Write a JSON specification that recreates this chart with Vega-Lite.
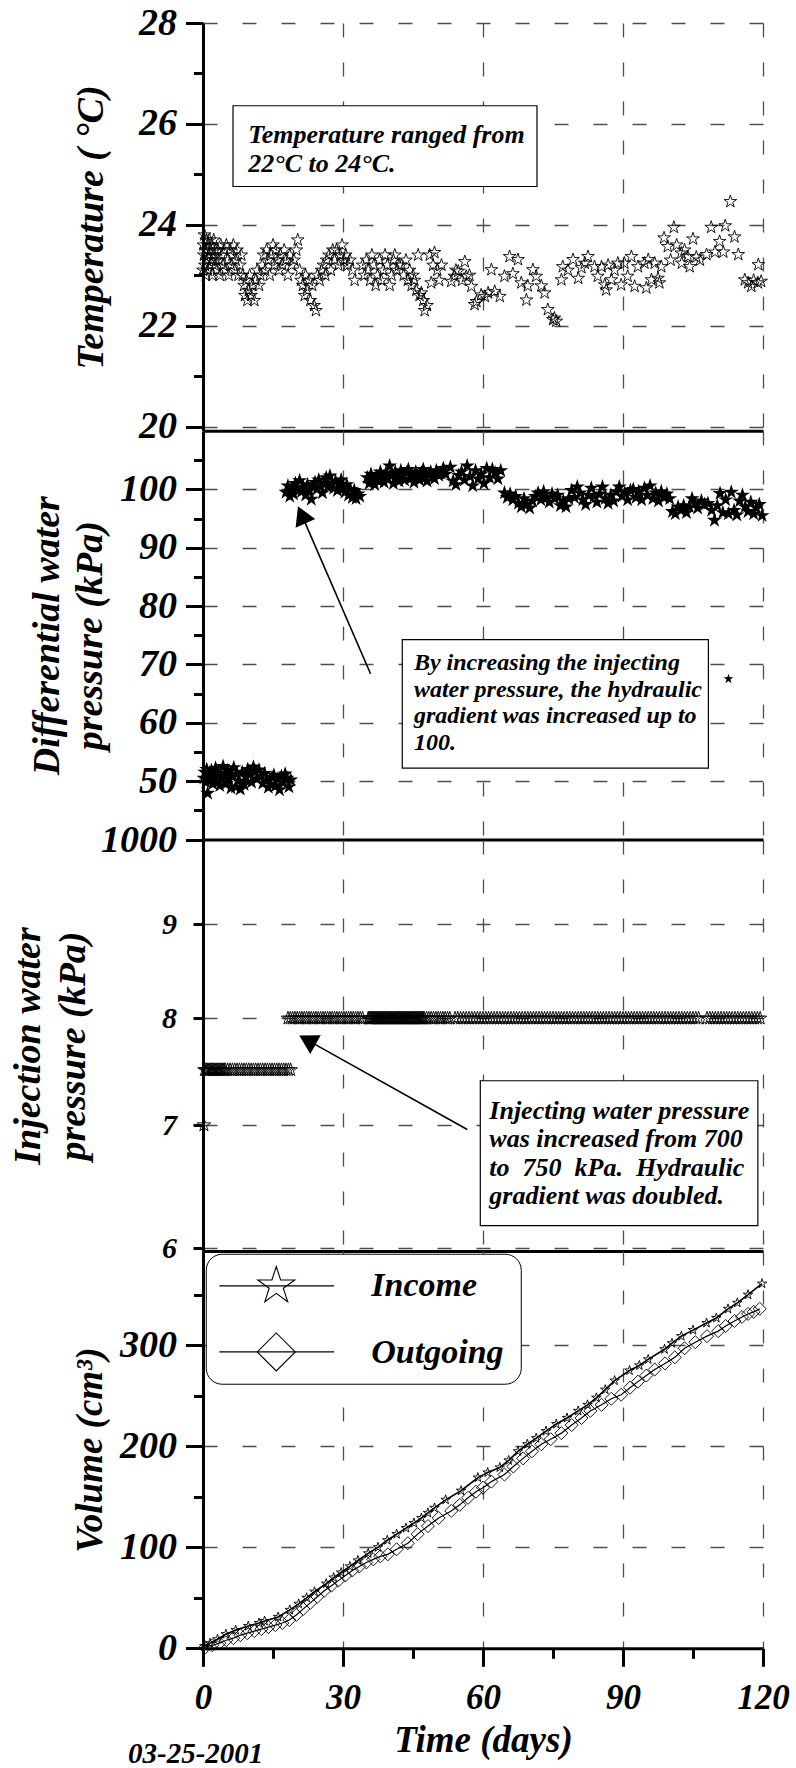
{
  "$schema": "https://vega.github.io/schema/vega-lite/v6.json",
  "padding": {"left": 9, "top": 4, "right": 10, "bottom": 0},
  "spacing": 0,
  "bounds": "flush",
  "config": {
    "view": {"stroke": null},
    "font": "Liberation Serif",
    "axis": {
      "labelFont": "Liberation Serif", "labelFontStyle": "italic", "labelFontWeight": "bold", "labelColor": "black",
      "titleFont": "Liberation Serif", "titleFontStyle": "italic", "titleFontWeight": "bold", "titleColor": "black",
      "domainColor": "black", "domainWidth": 3, "tickColor": "black", "tickWidth": 3,
      "gridColor": "#4d4d4d", "gridDash": [14, 25], "gridWidth": 1.3,
      "labelOverlap": false, "labelBound": false, "labelFlush": false
    },
    "text": {"font": "Liberation Serif", "fontStyle": "italic", "fontWeight": "bold", "color": "black"}
  },
  "datasets": {
    "temperature": [
      {"t":0.0,"v":23.1},{"t":0.1,"v":23.6},{"t":0.2,"v":23.4},{"t":0.3,"v":23.8},{"t":0.4,"v":23.2},{"t":0.5,"v":23.5},{"t":0.6,"v":23.0},{"t":0.7,"v":23.7},{"t":0.8,"v":23.3},{"t":0.9,"v":23.5},
      {"t":1.0,"v":23.1},{"t":1.1,"v":23.6},{"t":1.2,"v":23.4},{"t":1.4,"v":23.7},{"t":1.5,"v":23.2},{"t":1.6,"v":23.5},{"t":1.8,"v":23.3},{"t":1.9,"v":23.6},{"t":2.0,"v":23.0},{"t":2.2,"v":23.4},
      {"t":2.3,"v":23.7},{"t":2.5,"v":23.2},{"t":2.6,"v":23.5},{"t":2.8,"v":23.3},{"t":3.0,"v":23.1},{"t":3.2,"v":23.5},{"t":3.4,"v":23.3},{"t":3.6,"v":23.0},{"t":3.8,"v":23.6},{"t":4.0,"v":23.4},
      {"t":4.3,"v":23.2},{"t":4.5,"v":23.5},{"t":4.8,"v":23.1},{"t":5.0,"v":23.6},{"t":5.3,"v":23.3},{"t":5.5,"v":23.0},{"t":5.8,"v":23.5},{"t":6.0,"v":23.2},{"t":6.3,"v":23.4},{"t":6.5,"v":23.6},
      {"t":6.8,"v":23.1},{"t":7.0,"v":23.3},{"t":7.3,"v":23.5},{"t":7.6,"v":23.0},{"t":7.9,"v":23.2},{"t":8.2,"v":23.4},{"t":8.5,"v":23.0},{"t":8.8,"v":22.8},{"t":9.0,"v":22.6},{"t":9.3,"v":22.9},
      {"t":9.5,"v":22.5},{"t":9.8,"v":22.7},{"t":10.0,"v":23.0},{"t":10.3,"v":22.6},{"t":10.6,"v":22.8},{"t":11.0,"v":22.5},{"t":11.3,"v":22.9},{"t":11.6,"v":23.1},{"t":12.0,"v":22.8},{"t":12.3,"v":23.0},
      {"t":12.7,"v":23.2},{"t":13.0,"v":23.4},{"t":13.3,"v":23.1},{"t":13.6,"v":23.5},{"t":14.0,"v":23.3},{"t":14.3,"v":23.0},{"t":14.6,"v":23.4},{"t":15.0,"v":23.6},{"t":15.3,"v":23.2},{"t":15.6,"v":23.5},
      {"t":16.0,"v":23.3},{"t":16.3,"v":23.1},{"t":16.6,"v":23.4},{"t":17.0,"v":23.2},{"t":17.4,"v":23.5},{"t":17.8,"v":23.3},{"t":18.2,"v":23.0},{"t":18.6,"v":23.4},{"t":19.0,"v":23.2},{"t":19.5,"v":23.3},
      {"t":20.0,"v":23.5},{"t":20.3,"v":23.7},{"t":20.7,"v":23.1},{"t":21.0,"v":22.9},{"t":21.4,"v":22.8},{"t":21.8,"v":22.6},{"t":22.0,"v":23.0},{"t":22.3,"v":22.7},{"t":22.7,"v":22.9},{"t":23.0,"v":22.5},
      {"t":23.4,"v":22.8},{"t":23.8,"v":22.4},{"t":24.2,"v":22.3},{"t":24.5,"v":23.0},{"t":25.0,"v":22.9},{"t":25.4,"v":23.1},{"t":25.8,"v":23.2},{"t":26.2,"v":23.0},{"t":26.5,"v":23.3},{"t":27.0,"v":23.4},
      {"t":27.4,"v":23.1},{"t":27.8,"v":23.5},{"t":28.2,"v":23.3},{"t":28.6,"v":23.5},{"t":29.0,"v":23.2},{"t":29.4,"v":23.4},{"t":29.8,"v":23.6},{"t":30.2,"v":23.3},{"t":30.6,"v":23.4},{"t":31.0,"v":23.2},
      {"t":31.5,"v":23.3},{"t":32.0,"v":23.1},{"t":32.5,"v":22.9},{"t":34.2,"v":23.2},{"t":34.6,"v":23.0},{"t":35.0,"v":23.3},{"t":35.4,"v":23.1},{"t":35.8,"v":22.9},{"t":36.2,"v":23.4},{"t":36.6,"v":23.2},
      {"t":37.0,"v":22.8},{"t":37.4,"v":23.0},{"t":37.8,"v":23.3},{"t":38.2,"v":22.9},{"t":38.6,"v":23.1},{"t":39.0,"v":23.4},{"t":39.5,"v":23.2},{"t":40.0,"v":22.8},{"t":40.4,"v":23.0},{"t":40.8,"v":23.3},
      {"t":41.1,"v":23.4},{"t":41.5,"v":23.1},{"t":42.0,"v":23.2},{"t":42.5,"v":23.2},{"t":43.0,"v":23.0},{"t":43.5,"v":23.3},{"t":43.9,"v":22.9},{"t":44.3,"v":23.1},{"t":44.7,"v":22.8},{"t":45.0,"v":23.0},
      {"t":45.3,"v":22.9},{"t":45.7,"v":22.7},{"t":46.1,"v":23.4},{"t":46.4,"v":22.6},{"t":46.8,"v":22.65},{"t":47.2,"v":22.5},{"t":47.5,"v":22.3},{"t":48.0,"v":22.4},{"t":48.6,"v":23.4},{"t":48.9,"v":22.85},
      {"t":49.3,"v":23.2},{"t":49.6,"v":23.45},{"t":50.2,"v":23.1},{"t":50.6,"v":22.9},{"t":51.1,"v":23.2},{"t":53.2,"v":22.88},{"t":53.9,"v":22.98},{"t":54.2,"v":23.1},{"t":54.7,"v":23.08},{"t":55.5,"v":22.9},
      {"t":56.1,"v":23.27},{"t":56.4,"v":22.98},{"t":57.1,"v":23.0},{"t":57.5,"v":22.78},{"t":58.2,"v":22.42},{"t":58.6,"v":22.48},{"t":59.6,"v":22.61},{"t":60.4,"v":22.58},{"t":61.1,"v":22.65},{"t":61.8,"v":23.11},
      {"t":62.5,"v":22.68},{"t":63.6,"v":22.58},{"t":64.6,"v":22.98},{"t":65.7,"v":23.37},{"t":66.4,"v":23.03},{"t":67.5,"v":23.31},{"t":68.2,"v":22.85},{"t":69.3,"v":22.51},{"t":69.6,"v":22.79},{"t":70.7,"v":23.11},
      {"t":71.4,"v":22.98},{"t":72.5,"v":22.79},{"t":73.2,"v":22.65},{"t":73.9,"v":22.32},{"t":75.0,"v":22.12},{"t":75.3,"v":22.15},{"t":75.7,"v":22.09},{"t":76.8,"v":22.91},{"t":77.1,"v":23.17},{"t":78.2,"v":23.1},
      {"t":79.3,"v":23.31},{"t":80.4,"v":22.94},{"t":81.1,"v":23.15},{"t":81.8,"v":23.24},{"t":82.5,"v":23.37},{"t":83.9,"v":23.17},{"t":84.6,"v":22.98},{"t":85.4,"v":23.17},{"t":86.1,"v":22.81},{"t":86.4,"v":22.71},
      {"t":86.8,"v":23.2},{"t":87.5,"v":22.91},{"t":88.2,"v":23.1},{"t":88.9,"v":23.24},{"t":89.6,"v":22.81},{"t":90.3,"v":23.24},{"t":91.0,"v":22.98},{"t":91.8,"v":23.37},{"t":92.5,"v":22.78},{"t":93.2,"v":23.17},
      {"t":94.6,"v":23.24},{"t":95.0,"v":22.75},{"t":95.4,"v":23.31},{"t":96.1,"v":22.91},{"t":96.8,"v":23.24},{"t":97.5,"v":22.94},{"t":97.8,"v":22.85},{"t":98.2,"v":23.17},{"t":98.8,"v":23.74},{"t":99.6,"v":23.57},
      {"t":100.2,"v":23.3},{"t":100.9,"v":23.95},{"t":101.5,"v":23.6},{"t":102.5,"v":23.44},{"t":102.6,"v":23.24},{"t":103.2,"v":23.5},{"t":103.9,"v":23.37},{"t":104.3,"v":23.17},{"t":105.0,"v":23.72},{"t":105.7,"v":23.36},
      {"t":106.5,"v":23.3},{"t":107.9,"v":23.41},{"t":108.9,"v":23.95},{"t":109.7,"v":23.46},{"t":110.7,"v":23.67},{"t":111.5,"v":23.46},{"t":111.9,"v":23.98},{"t":113.0,"v":24.46},{"t":113.9,"v":23.76},{"t":114.7,"v":23.41},
      {"t":116.1,"v":22.91},{"t":116.8,"v":22.85},{"t":117.5,"v":22.78},{"t":118.0,"v":22.9},{"t":118.9,"v":22.85},{"t":119.0,"v":23.21},{"t":119.6,"v":22.88}
    ],
    "differential": [
      {"t":0.2,"v":50.5},{"t":0.4,"v":51.5},{"t":0.6,"v":49.8},{"t":0.8,"v":52.0},{"t":1.0,"v":47.9},{"t":1.2,"v":51.0},{"t":1.5,"v":50.2},{"t":1.8,"v":51.8},{"t":2.1,"v":49.5},{"t":2.4,"v":50.8},
      {"t":2.7,"v":52.2},{"t":3.0,"v":50.0},{"t":3.3,"v":51.4},{"t":3.6,"v":49.2},{"t":4.0,"v":50.6},{"t":4.3,"v":52.5},{"t":4.6,"v":51.0},{"t":5.0,"v":49.6},{"t":5.3,"v":51.8},{"t":5.6,"v":50.3},
      {"t":6.0,"v":48.8},{"t":6.3,"v":50.9},{"t":6.6,"v":52.3},{"t":7.0,"v":49.0},{"t":7.3,"v":51.2},{"t":7.6,"v":50.0},{"t":8.0,"v":48.6},{"t":8.4,"v":51.5},{"t":8.8,"v":49.4},{"t":9.2,"v":50.7},
      {"t":9.6,"v":52.0},{"t":10.0,"v":51.1},{"t":10.4,"v":49.8},{"t":10.8,"v":52.4},{"t":11.2,"v":51.6},{"t":11.6,"v":50.4},{"t":12.0,"v":51.9},{"t":12.4,"v":50.8},{"t":12.8,"v":49.6},{"t":13.2,"v":51.3},
      {"t":13.6,"v":50.2},{"t":14.0,"v":48.9},{"t":14.4,"v":49.5},{"t":14.8,"v":50.6},{"t":15.2,"v":51.0},{"t":15.6,"v":49.2},{"t":16.0,"v":50.3},{"t":16.4,"v":48.5},{"t":16.8,"v":50.8},{"t":17.2,"v":49.7},
      {"t":17.6,"v":51.2},{"t":18.0,"v":50.5},{"t":18.4,"v":49.0},{"t":18.8,"v":50.2},
      {"t":17.8,"v":99.5},{"t":18.2,"v":100.6},{"t":18.6,"v":98.8},{"t":19.0,"v":100.0},{"t":19.4,"v":99.2},{"t":19.8,"v":101.0},{"t":20.2,"v":100.2},{"t":20.7,"v":101.5},{"t":21.1,"v":99.6},{"t":21.5,"v":100.4},
      {"t":22.0,"v":99.0},{"t":22.4,"v":100.8},{"t":22.8,"v":99.8},{"t":23.2,"v":98.3},{"t":23.6,"v":100.5},{"t":24.0,"v":101.2},{"t":24.4,"v":100.0},{"t":24.8,"v":101.6},{"t":25.2,"v":100.6},{"t":25.6,"v":99.4},
      {"t":26.0,"v":101.0},{"t":26.4,"v":102.0},{"t":26.8,"v":100.4},{"t":27.2,"v":102.3},{"t":27.6,"v":101.0},{"t":28.0,"v":100.2},{"t":28.4,"v":101.4},{"t":28.8,"v":99.8},{"t":29.2,"v":100.8},{"t":29.6,"v":101.6},
      {"t":30.0,"v":100.2},{"t":30.4,"v":99.5},{"t":30.8,"v":100.8},{"t":31.2,"v":99.0},{"t":31.6,"v":100.0},{"t":32.0,"v":98.6},{"t":32.4,"v":99.8},{"t":32.8,"v":98.4},{"t":33.2,"v":99.2},{"t":33.6,"v":98.8},
      {"t":35.2,"v":102.0},{"t":35.6,"v":101.0},{"t":36.0,"v":102.6},{"t":36.4,"v":101.6},{"t":36.8,"v":100.8},{"t":37.2,"v":102.2},{"t":37.6,"v":101.4},{"t":38.0,"v":103.0},{"t":38.4,"v":102.0},{"t":38.8,"v":101.2},
      {"t":39.2,"v":102.8},{"t":39.6,"v":101.8},{"t":40.0,"v":104.0},{"t":40.4,"v":102.4},{"t":40.8,"v":101.0},{"t":41.2,"v":103.0},{"t":41.6,"v":102.0},{"t":42.0,"v":101.4},{"t":42.4,"v":103.2},{"t":42.8,"v":102.4},
      {"t":43.2,"v":101.6},{"t":43.6,"v":102.8},{"t":44.0,"v":103.4},{"t":44.4,"v":101.8},{"t":44.8,"v":102.6},{"t":45.2,"v":101.2},{"t":45.6,"v":103.0},{"t":46.0,"v":102.2},{"t":46.4,"v":101.6},{"t":46.8,"v":102.8},
      {"t":47.2,"v":103.4},{"t":47.6,"v":102.0},{"t":48.0,"v":101.4},{"t":48.4,"v":102.6},{"t":48.8,"v":103.0},{"t":49.2,"v":102.2},{"t":49.6,"v":101.8},{"t":50.0,"v":103.2},{"t":50.5,"v":102.4},{"t":51.0,"v":102.8},
      {"t":51.5,"v":103.6},{"t":52.0,"v":102.6},{"t":53.0,"v":103.8},{"t":53.6,"v":101.4},{"t":54.2,"v":100.8},{"t":54.8,"v":102.4},{"t":55.4,"v":103.0},{"t":56.0,"v":101.6},{"t":56.6,"v":104.0},{"t":57.2,"v":102.2},
      {"t":57.8,"v":100.6},{"t":58.4,"v":103.2},{"t":59.0,"v":101.8},{"t":59.6,"v":102.6},{"t":60.2,"v":101.0},{"t":60.8,"v":103.6},{"t":61.4,"v":102.0},{"t":62.0,"v":103.4},{"t":62.6,"v":102.8},{"t":63.2,"v":101.8},
      {"t":63.8,"v":103.2},{"t":64.6,"v":99.4},{"t":65.2,"v":98.6},{"t":65.8,"v":99.2},{"t":66.4,"v":98.2},{"t":67.0,"v":98.8},{"t":67.6,"v":97.6},{"t":68.2,"v":97.0},{"t":68.8,"v":98.4},{"t":69.4,"v":97.4},
      {"t":70.0,"v":96.8},{"t":70.6,"v":98.0},{"t":71.2,"v":98.8},{"t":71.8,"v":99.4},{"t":72.4,"v":98.2},{"t":73.0,"v":99.6},{"t":73.6,"v":98.6},{"t":74.2,"v":97.8},{"t":74.8,"v":99.2},{"t":75.4,"v":98.4},
      {"t":76.0,"v":99.0},{"t":76.6,"v":97.2},{"t":77.2,"v":98.0},{"t":77.8,"v":97.0},{"t":78.4,"v":98.4},{"t":79.0,"v":99.8},{"t":79.6,"v":98.6},{"t":80.2,"v":100.4},{"t":80.8,"v":99.4},{"t":81.4,"v":98.2},
      {"t":82.0,"v":97.4},{"t":82.6,"v":99.0},{"t":83.2,"v":100.2},{"t":83.8,"v":98.8},{"t":84.4,"v":97.8},{"t":85.0,"v":99.2},{"t":85.6,"v":100.4},{"t":86.2,"v":98.4},{"t":86.8,"v":97.6},{"t":87.4,"v":99.0},
      {"t":88.0,"v":98.0},{"t":88.6,"v":99.6},{"t":89.2,"v":100.4},{"t":89.8,"v":98.8},{"t":90.4,"v":99.4},{"t":91.0,"v":98.2},{"t":91.6,"v":99.8},{"t":92.2,"v":100.0},{"t":92.8,"v":98.6},{"t":93.4,"v":99.6},
      {"t":94.0,"v":98.2},{"t":94.6,"v":100.2},{"t":95.2,"v":99.0},{"t":95.8,"v":100.6},{"t":96.4,"v":98.4},{"t":97.0,"v":99.4},{"t":97.6,"v":98.0},{"t":98.2,"v":99.6},{"t":98.8,"v":98.6},{"t":99.4,"v":99.2},
      {"t":100.0,"v":98.4},{"t":100.6,"v":96.2},{"t":101.2,"v":95.8},{"t":101.8,"v":97.0},{"t":102.4,"v":96.4},{"t":103.0,"v":97.2},{"t":103.6,"v":96.0},{"t":104.2,"v":97.0},{"t":104.8,"v":98.4},{"t":105.4,"v":97.6},
      {"t":106.0,"v":96.8},{"t":106.8,"v":98.0},{"t":107.5,"v":97.4},{"t":108.2,"v":97.6},{"t":109.0,"v":96.4},{"t":109.6,"v":94.7},{"t":110.2,"v":97.2},{"t":110.8,"v":99.3},{"t":111.4,"v":96.0},{"t":112.0,"v":98.2},
      {"t":112.6,"v":95.8},{"t":113.2,"v":99.5},{"t":113.8,"v":96.4},{"t":114.4,"v":95.6},{"t":115.0,"v":98.0},{"t":115.6,"v":99.0},{"t":116.2,"v":97.0},{"t":116.8,"v":96.2},{"t":117.4,"v":97.8},{"t":118.0,"v":95.8},
      {"t":118.6,"v":96.8},{"t":119.2,"v":97.4},{"t":119.8,"v":95.5}
    ],
    "differentialStray": [{"t":112.6,"v":67.5}],
    "injection": [
      {"t":0.2,"p":7},
      {"t":0.3,"p":7.5},{"t":0.55,"p":7.5},{"t":0.8,"p":7.5},{"t":1.05,"p":7.5},{"t":1.3,"p":7.5},{"t":1.55,"p":7.5},{"t":1.8,"p":7.5},{"t":2.05,"p":7.5},{"t":2.3,"p":7.5},{"t":2.55,"p":7.5},
      {"t":2.8,"p":7.5},{"t":3.05,"p":7.5},{"t":3.3,"p":7.5},{"t":3.55,"p":7.5},{"t":3.8,"p":7.5},{"t":4.05,"p":7.5},{"t":4.3,"p":7.5},{"t":4.55,"p":7.5},{"t":4.8,"p":7.5},{"t":5.3,"p":7.5},
      {"t":5.8,"p":7.5},{"t":6.3,"p":7.5},{"t":6.8,"p":7.5},{"t":7.3,"p":7.5},{"t":7.8,"p":7.5},{"t":8.3,"p":7.5},{"t":8.8,"p":7.5},{"t":9.3,"p":7.5},{"t":9.8,"p":7.5},{"t":10.3,"p":7.5},
      {"t":10.8,"p":7.5},{"t":11.3,"p":7.5},{"t":11.8,"p":7.5},{"t":12.3,"p":7.5},{"t":12.8,"p":7.5},{"t":13.3,"p":7.5},{"t":13.8,"p":7.5},{"t":14.3,"p":7.5},{"t":14.8,"p":7.5},{"t":15.3,"p":7.5},
      {"t":15.8,"p":7.5},{"t":16.3,"p":7.5},{"t":16.8,"p":7.5},{"t":17.3,"p":7.5},{"t":17.8,"p":7.5},{"t":18.3,"p":7.5},{"t":18.8,"p":7.5},
      {"t":18.2,"p":8},{"t":18.7,"p":8},{"t":19.2,"p":8},{"t":19.7,"p":8},{"t":20.2,"p":8},{"t":20.7,"p":8},{"t":21.2,"p":8},{"t":21.7,"p":8},{"t":22.2,"p":8},{"t":22.7,"p":8},
      {"t":23.2,"p":8},{"t":23.7,"p":8},{"t":24.2,"p":8},{"t":24.7,"p":8},{"t":25.2,"p":8},{"t":25.7,"p":8},{"t":26.2,"p":8},{"t":26.7,"p":8},{"t":27.2,"p":8},{"t":27.7,"p":8},
      {"t":28.2,"p":8},{"t":28.7,"p":8},{"t":29.2,"p":8},{"t":29.7,"p":8},{"t":30.2,"p":8},{"t":30.7,"p":8},{"t":31.2,"p":8},{"t":31.7,"p":8},{"t":32.2,"p":8},{"t":32.7,"p":8},
      {"t":33.2,"p":8},{"t":33.7,"p":8},{"t":34.2,"p":8},
      {"t":35.4,"p":8},{"t":35.6,"p":8},{"t":35.8,"p":8},{"t":36.0,"p":8},{"t":36.2,"p":8},{"t":36.4,"p":8},{"t":36.6,"p":8},{"t":36.8,"p":8},{"t":37.0,"p":8},{"t":37.2,"p":8},
      {"t":37.4,"p":8},{"t":37.6,"p":8},{"t":37.8,"p":8},{"t":38.0,"p":8},{"t":38.2,"p":8},{"t":38.4,"p":8},{"t":38.6,"p":8},{"t":38.8,"p":8},{"t":39.0,"p":8},{"t":39.2,"p":8},
      {"t":39.4,"p":8},{"t":39.6,"p":8},{"t":39.8,"p":8},{"t":40.0,"p":8},{"t":40.2,"p":8},{"t":40.4,"p":8},{"t":40.6,"p":8},{"t":40.8,"p":8},{"t":41.0,"p":8},{"t":41.2,"p":8},
      {"t":41.4,"p":8},{"t":41.6,"p":8},{"t":41.8,"p":8},{"t":42.0,"p":8},{"t":42.2,"p":8},{"t":42.4,"p":8},{"t":42.6,"p":8},{"t":42.8,"p":8},{"t":43.0,"p":8},{"t":43.2,"p":8},
      {"t":43.4,"p":8},{"t":43.6,"p":8},{"t":43.8,"p":8},{"t":44.0,"p":8},{"t":44.2,"p":8},{"t":44.4,"p":8},{"t":44.6,"p":8},{"t":44.8,"p":8},{"t":45.0,"p":8},{"t":45.2,"p":8},
      {"t":45.4,"p":8},{"t":45.6,"p":8},{"t":45.8,"p":8},{"t":46.0,"p":8},{"t":46.2,"p":8},{"t":46.4,"p":8},{"t":46.6,"p":8},{"t":46.8,"p":8},{"t":47.0,"p":8},{"t":47.2,"p":8},
      {"t":47.4,"p":8},{"t":47.9,"p":8},{"t":48.4,"p":8},{"t":48.9,"p":8},{"t":49.4,"p":8},{"t":49.9,"p":8},{"t":50.4,"p":8},{"t":50.9,"p":8},{"t":51.4,"p":8},{"t":51.9,"p":8},
      {"t":52.4,"p":8},{"t":52.9,"p":8},
      {"t":54.0,"p":8},{"t":54.6,"p":8},{"t":55.2,"p":8},{"t":55.8,"p":8},{"t":56.4,"p":8},{"t":57.0,"p":8},{"t":57.6,"p":8},{"t":58.2,"p":8},{"t":58.8,"p":8},{"t":59.4,"p":8},
      {"t":60.0,"p":8},{"t":60.6,"p":8},{"t":61.2,"p":8},{"t":61.8,"p":8},{"t":62.4,"p":8},{"t":63.0,"p":8},{"t":63.6,"p":8},{"t":64.2,"p":8},{"t":64.8,"p":8},{"t":65.4,"p":8},
      {"t":66.0,"p":8},{"t":66.6,"p":8},{"t":67.2,"p":8},{"t":67.8,"p":8},{"t":68.4,"p":8},{"t":69.0,"p":8},{"t":69.6,"p":8},{"t":70.2,"p":8},{"t":70.8,"p":8},{"t":71.4,"p":8},
      {"t":72.0,"p":8},{"t":72.6,"p":8},{"t":73.2,"p":8},{"t":73.8,"p":8},{"t":74.4,"p":8},{"t":75.0,"p":8},{"t":75.6,"p":8},{"t":76.2,"p":8},{"t":76.8,"p":8},{"t":77.4,"p":8},
      {"t":78.0,"p":8},{"t":78.6,"p":8},{"t":79.2,"p":8},{"t":79.8,"p":8},{"t":80.4,"p":8},{"t":81.0,"p":8},{"t":81.6,"p":8},{"t":82.2,"p":8},{"t":82.8,"p":8},{"t":83.4,"p":8},
      {"t":84.0,"p":8},{"t":84.6,"p":8},{"t":85.2,"p":8},{"t":85.8,"p":8},{"t":86.4,"p":8},{"t":87.0,"p":8},{"t":87.6,"p":8},{"t":88.2,"p":8},{"t":88.8,"p":8},{"t":89.4,"p":8},
      {"t":90.0,"p":8},{"t":90.6,"p":8},{"t":91.2,"p":8},{"t":91.8,"p":8},{"t":92.4,"p":8},{"t":93.0,"p":8},{"t":93.6,"p":8},{"t":94.2,"p":8},{"t":94.8,"p":8},{"t":95.4,"p":8},
      {"t":96.0,"p":8},{"t":96.6,"p":8},{"t":97.2,"p":8},{"t":97.8,"p":8},{"t":98.4,"p":8},{"t":99.0,"p":8},{"t":99.6,"p":8},{"t":100.2,"p":8},{"t":100.8,"p":8},{"t":101.4,"p":8},
      {"t":102.0,"p":8},{"t":102.6,"p":8},{"t":103.2,"p":8},{"t":103.8,"p":8},{"t":104.4,"p":8},{"t":105.0,"p":8},{"t":105.6,"p":8},{"t":106.2,"p":8},
      {"t":108.0,"p":8},{"t":108.6,"p":8},{"t":109.2,"p":8},{"t":109.8,"p":8},{"t":110.4,"p":8},{"t":111.0,"p":8},{"t":111.6,"p":8},{"t":112.2,"p":8},{"t":112.8,"p":8},{"t":113.4,"p":8},
      {"t":114.0,"p":8},{"t":114.6,"p":8},{"t":115.2,"p":8},{"t":115.8,"p":8},{"t":116.4,"p":8},{"t":117.0,"p":8},{"t":117.6,"p":8},{"t":118.2,"p":8},{"t":118.8,"p":8},{"t":119.4,"p":8}
    ],
    "income": [
      {"t":0.3,"v":2},{"t":1.5,"v":5},{"t":3.1,"v":9},{"t":4.9,"v":14},{"t":7.0,"v":18},{"t":9.7,"v":22},{"t":12.0,"v":25},{"t":13.2,"v":27},{"t":16.1,"v":31},{"t":18.6,"v":38},
      {"t":20.5,"v":44},{"t":22.2,"v":50},{"t":23.9,"v":56},{"t":26.4,"v":64},{"t":28.0,"v":70},{"t":29.6,"v":75},{"t":31.5,"v":81},{"t":33.2,"v":87},{"t":35.4,"v":94},{"t":37.5,"v":100},
      {"t":39.5,"v":107},{"t":41.5,"v":113},{"t":43.5,"v":119},{"t":45.2,"v":124},{"t":46.8,"v":129},{"t":48.2,"v":134},{"t":49.6,"v":139},{"t":52.0,"v":147},{"t":55.3,"v":156},{"t":58.9,"v":169},
      {"t":61.0,"v":174},{"t":63.6,"v":179},{"t":65.5,"v":186},{"t":67.5,"v":195},{"t":69.5,"v":202},{"t":71.4,"v":208},{"t":73.5,"v":215},{"t":75.7,"v":222},{"t":78.0,"v":228},{"t":80.4,"v":235},
      {"t":82.4,"v":241},{"t":84.3,"v":248},{"t":86.2,"v":256},{"t":88.2,"v":265},{"t":91.4,"v":275},{"t":93.5,"v":280},{"t":95.4,"v":286},{"t":98.9,"v":296},{"t":100.5,"v":302},{"t":102.5,"v":309},
      {"t":105.0,"v":315},{"t":107.9,"v":322},{"t":110.0,"v":327},{"t":112.5,"v":336},{"t":114.5,"v":342},{"t":116.8,"v":350},{"t":119.8,"v":361}
    ],
    "outgoing": [
      {"t":0.5,"v":1},{"t":2.0,"v":3},{"t":3.5,"v":5},{"t":5.0,"v":8},{"t":6.5,"v":10},{"t":8.0,"v":13},{"t":9.5,"v":15},{"t":11.0,"v":17},{"t":12.5,"v":19},{"t":14.0,"v":21},
      {"t":15.5,"v":23},{"t":17.0,"v":25},{"t":18.5,"v":28},{"t":20.0,"v":33},{"t":21.5,"v":39},{"t":23.0,"v":45},{"t":24.5,"v":51},{"t":26.0,"v":57},{"t":27.5,"v":62},{"t":29.0,"v":67},
      {"t":30.5,"v":72},{"t":32.0,"v":77},{"t":33.5,"v":81},{"t":35.0,"v":85},{"t":36.5,"v":88},{"t":38.0,"v":91},{"t":39.6,"v":93},{"t":41.5,"v":98},{"t":43.9,"v":104},{"t":46.0,"v":113},
      {"t":48.2,"v":121},{"t":50.5,"v":129},{"t":53.2,"v":136},{"t":55.0,"v":142},{"t":56.8,"v":149},{"t":58.5,"v":155},{"t":60.0,"v":159},{"t":61.8,"v":165},{"t":64.6,"v":172},{"t":66.5,"v":180},
      {"t":68.6,"v":188},{"t":70.5,"v":195},{"t":72.5,"v":202},{"t":74.5,"v":207},{"t":76.8,"v":213},{"t":79.0,"v":221},{"t":81.1,"v":228},{"t":83.0,"v":235},{"t":85.4,"v":241},{"t":87.5,"v":247},
      {"t":89.6,"v":251},{"t":91.5,"v":258},{"t":93.2,"v":264},{"t":95.0,"v":270},{"t":96.8,"v":276},{"t":99.0,"v":282},{"t":101.1,"v":288},{"t":103.2,"v":297},{"t":105.5,"v":303},{"t":108.0,"v":309},
      {"t":110.4,"v":314},{"t":112.0,"v":319},{"t":113.9,"v":324},{"t":115.5,"v":328},{"t":116.8,"v":331},{"t":118.0,"v":333},{"t":119.3,"v":336}
    ]
  },
  "vconcat": [
    {
      "width": 560,
      "height": 407.7,
      "layer": [
        {
          "data": {"name": "temperature"},
          "mark": {"type": "point", "shape": "M0,-1L0.2245,-0.309L0.951,-0.309L0.363,0.118L0.588,0.809L0,0.382L-0.588,0.809L-0.363,0.118L-0.951,-0.309L-0.2245,-0.309Z", "filled": false, "stroke": "black", "strokeWidth": 0.9, "size": 178, "opacity": 1},
          "encoding": {
            "x": {"field": "t", "type": "quantitative", "scale": {"domain": [0, 120], "nice": false, "zero": false},
                  "axis": {"values": [30, 60, 90, 120], "tickCount": 100, "ticks": false, "labels": false, "title": null, "grid": true, "domain": true}},
            "y": {"field": "v", "type": "quantitative", "scale": {"domain": [19.92, 28], "nice": false, "zero": false},
                  "axis": {
                    "values": [20, 21, 22, 23, 24, 25, 26, 27, 28],
                    "tickCount": 100,
                    "tickSize": 17.5,
                    "tickDash": {"condition": {"test": "datum.value % 2 === 0", "value": [20, 0]}, "value": [9.5, 100]},
                    "gridOpacity": {"condition": {"test": "datum.value % 2 === 0", "value": 1}, "value": 0},
                    "labelExpr": "datum.value % 2 === 0 ? format(datum.value, 'd') : ''",
                    "labelFontSize": 38, "labelPadding": 9,
                    "title": "Temperature ( °C)", "titleFontSize": 38, "titleAngle": -90,
                    "titleX": -101, "titleY": 203.9, "titleAlign": "center", "titleBaseline": "alphabetic"
                  }}
          }
        },
        {
          "data": {"values": [{}]},
          "mark": {"type": "rect", "fill": "white", "stroke": "black", "strokeWidth": 1.2},
          "encoding": {
            "x": {"datum": 6.43, "type": "quantitative", "scale": {"domain": [0, 120], "nice": false, "zero": false}},
            "x2": {"datum": 71.57},
            "y": {"datum": 26.36, "type": "quantitative", "scale": {"domain": [19.92, 28], "nice": false, "zero": false}},
            "y2": {"datum": 24.76}
          }
        },
        {
          "data": {"values": [{}]},
          "mark": {"type": "text", "align": "left", "baseline": "alphabetic", "fontSize": 26, "lineHeight": 29},
          "encoding": {
            "x": {"datum": 9.71, "type": "quantitative", "scale": {"domain": [0, 120], "nice": false, "zero": false}},
            "y": {"datum": 25.62, "type": "quantitative", "scale": {"domain": [19.92, 28], "nice": false, "zero": false}},
            "text": {"value": ["Temperature ranged from", "22°C to 24°C."]}
          }
        }
      ]
    },
    {
      "width": 560,
      "height": 408.4,
      "layer": [
        {
          "data": {"name": "differential"},
          "mark": {"type": "point", "shape": "M0,-1L0.2245,-0.309L0.951,-0.309L0.363,0.118L0.588,0.809L0,0.382L-0.588,0.809L-0.363,0.118L-0.951,-0.309L-0.2245,-0.309Z", "filled": true, "color": "black", "size": 250, "opacity": 1},
          "encoding": {
            "x": {"field": "t", "type": "quantitative", "scale": {"domain": [0, 120], "nice": false, "zero": false},
                  "axis": {"values": [30, 60, 90, 120], "tickCount": 100, "ticks": false, "labels": false, "title": null, "grid": true, "domain": true}},
            "y": {"field": "v", "type": "quantitative", "scale": {"domain": [40, 110], "nice": false, "zero": false},
                  "axis": {
                    "values": [45, 50, 55, 60, 65, 70, 75, 80, 85, 90, 95, 100, 105],
                    "tickCount": 100,
                    "tickSize": 17.5,
                    "tickDash": {"condition": {"test": "datum.value % 10 === 0", "value": [20, 0]}, "value": [9.5, 100]},
                    "gridOpacity": {"condition": {"test": "datum.value % 10 === 0", "value": 1}, "value": 0},
                    "labelExpr": "datum.value % 10 === 0 ? format(datum.value, 'd') : ''",
                    "labelFontSize": 38, "labelPadding": 9,
                    "title": ["Differential water", "pressure (kPa)"], "titleFontSize": 38, "titleAngle": -90, "titleLineHeight": 43,
                    "titleX": -144.7, "titleY": 204.2, "titleAlign": "center", "titleBaseline": "alphabetic"
                  }}
          }
        },
        {
          "data": {"name": "differentialStray"},
          "mark": {"type": "point", "shape": "M0,-1L0.2245,-0.309L0.951,-0.309L0.363,0.118L0.588,0.809L0,0.382L-0.588,0.809L-0.363,0.118L-0.951,-0.309L-0.2245,-0.309Z", "filled": true, "color": "black", "size": 110, "opacity": 1},
          "encoding": {
            "x": {"field": "t", "type": "quantitative", "scale": {"domain": [0, 120], "nice": false, "zero": false}},
            "y": {"field": "v", "type": "quantitative", "scale": {"domain": [40, 110], "nice": false, "zero": false}}
          }
        },
        {
          "data": {"values": [{}]},
          "mark": {"type": "rule", "stroke": "black", "strokeWidth": 1.6},
          "encoding": {
            "x": {"datum": 35.9, "type": "quantitative", "scale": {"domain": [0, 120], "nice": false, "zero": false}},
            "y": {"datum": 68.4, "type": "quantitative", "scale": {"domain": [40, 110], "nice": false, "zero": false}},
            "x2": {"datum": 21.15},
            "y2": {"datum": 95.63}
          }
        },
        {
          "data": {"values": [{}]},
          "mark": {"type": "point", "shape": "triangle-up", "filled": true, "color": "black", "size": 460, "angle": 336.4, "opacity": 1},
          "encoding": {
            "x": {"datum": 21.15, "type": "quantitative", "scale": {"domain": [0, 120], "nice": false, "zero": false}},
            "y": {"datum": 95.63, "type": "quantitative", "scale": {"domain": [40, 110], "nice": false, "zero": false}}
          }
        },
        {
          "data": {"values": [{}]},
          "mark": {"type": "rect", "fill": "white", "stroke": "black", "strokeWidth": 1.2},
          "encoding": {
            "x": {"datum": 42.7, "type": "quantitative", "scale": {"domain": [0, 120], "nice": false, "zero": false}},
            "x2": {"datum": 108.3},
            "y": {"datum": 74.24, "type": "quantitative", "scale": {"domain": [40, 110], "nice": false, "zero": false}},
            "y2": {"datum": 52.23}
          }
        },
        {
          "data": {"values": [{}]},
          "mark": {"type": "text", "align": "left", "baseline": "alphabetic", "fontSize": 24, "lineHeight": 26.5},
          "encoding": {
            "x": {"datum": 45.2, "type": "quantitative", "scale": {"domain": [0, 120], "nice": false, "zero": false}},
            "y": {"datum": 68.98, "type": "quantitative", "scale": {"domain": [40, 110], "nice": false, "zero": false}},
            "text": {"value": ["By increasing the injecting", "water pressure, the hydraulic", "gradient was increased up to", "100."]}
          }
        }
      ]
    },
    {
      "width": 560,
      "height": 410.9,
      "layer": [
        {
          "data": {"name": "injection"},
          "mark": {"type": "point", "shape": "M0,-1L0.2245,-0.309L0.951,-0.309L0.363,0.118L0.588,0.809L0,0.382L-0.588,0.809L-0.363,0.118L-0.951,-0.309L-0.2245,-0.309Z", "filled": false, "stroke": "black", "strokeWidth": 0.9, "size": 200, "opacity": 1},
          "encoding": {
            "x": {"field": "t", "type": "quantitative", "scale": {"domain": [0, 120], "nice": false, "zero": false},
                  "axis": {"values": [30, 60, 90, 120], "tickCount": 100, "ticks": false, "labels": false, "title": null, "grid": true, "domain": true}},
            "y": {"field": "p", "type": "quantitative", "scale": {"type": "log", "domain": [5.98, 10], "nice": false},
                  "axis": {
                    "values": [6, 7, 8, 9, 10],
                    "tickCount": 100,
                    "tickSize": 17.5,
                    "tickDash": {"condition": {"test": "datum.value >= 10", "value": [20, 0]}, "value": [10, 100]},
                    "gridOpacity": {"condition": {"test": "datum.value < 10", "value": 1}, "value": 0},
                    "labelExpr": "datum.value >= 10 ? '1000' : format(datum.value, 'd')",
                    "labelFontSize": {"condition": {"test": "datum.value >= 10", "value": 38}, "value": 30},
                    "labelPadding": 9,
                    "title": ["Injection water", "pressure (kPa)"], "titleFontSize": 38, "titleAngle": -90, "titleLineHeight": 45,
                    "titleX": -163.7, "titleY": 205.5, "titleAlign": "center", "titleBaseline": "alphabetic"
                  }}
          }
        },
        {
          "data": {"values": [{}]},
          "mark": {"type": "rect", "fill": "white", "stroke": "black", "strokeWidth": 1.2},
          "encoding": {
            "x": {"datum": 59.42, "type": "quantitative", "scale": {"domain": [0, 120], "nice": false, "zero": false}},
            "x2": {"datum": 118.9},
            "y": {"datum": 7.399, "type": "quantitative", "scale": {"type": "log", "domain": [5.98, 10], "nice": false}},
            "y2": {"datum": 6.172}
          }
        },
        {
          "data": {"values": [{}]},
          "mark": {"type": "text", "align": "left", "baseline": "alphabetic", "fontSize": 26, "lineHeight": 28.5},
          "encoding": {
            "x": {"datum": 61.35, "type": "quantitative", "scale": {"domain": [0, 120], "nice": false, "zero": false}},
            "y": {"datum": 7.054, "type": "quantitative", "scale": {"type": "log", "domain": [5.98, 10], "nice": false}},
            "text": {"value": ["Injecting water pressure", "was increased from 700", "to\u00a0 750\u00a0 kPa.\u00a0 Hydraulic", "gradient was doubled."]}
          }
        },
        {
          "data": {"values": [{}]},
          "mark": {"type": "rule", "stroke": "black", "strokeWidth": 1.6},
          "encoding": {
            "x": {"datum": 56.63, "type": "quantitative", "scale": {"domain": [0, 120], "nice": false, "zero": false}},
            "y": {"datum": 6.961, "type": "quantitative", "scale": {"type": "log", "domain": [5.98, 10], "nice": false}},
            "x2": {"datum": 22.37},
            "y2": {"datum": 7.785}
          }
        },
        {
          "data": {"values": [{}]},
          "mark": {"type": "point", "shape": "triangle-up", "filled": true, "color": "black", "size": 460, "angle": 299.25, "opacity": 1},
          "encoding": {
            "x": {"datum": 22.37, "type": "quantitative", "scale": {"domain": [0, 120], "nice": false, "zero": false}},
            "y": {"datum": 7.785, "type": "quantitative", "scale": {"type": "log", "domain": [5.98, 10], "nice": false}}
          }
        }
      ]
    },
    {
      "width": 560,
      "height": 397.3,
      "layer": [
        {
          "data": {"name": "outgoing"},
          "mark": {"type": "point", "shape": "diamond", "filled": false, "stroke": "black", "strokeWidth": 0.9, "size": 170, "opacity": 1},
          "encoding": {
            "x": {"field": "t", "type": "quantitative", "scale": {"domain": [0, 120], "nice": false, "zero": false},
                  "axis": {
                    "values": [0, 15, 30, 45, 60, 75, 90, 105, 120],
                    "tickCount": 100,
                    "tickSize": 18,
                    "tickDash": {"condition": {"test": "datum.value % 30 === 0", "value": [20, 0]}, "value": [10, 100]},
                    "gridOpacity": {"condition": {"test": "datum.value % 30 === 0 && datum.value > 0", "value": 1}, "value": 0},
                    "labelExpr": "datum.value % 30 === 0 ? format(datum.value, 'd') : ''",
                    "labelFontSize": 35, "labelPadding": 14,
                    "title": "Time (days)", "titleFontSize": 37, "titleBaseline": "alphabetic", "titleY": 103
                  }},
            "y": {"field": "v", "type": "quantitative", "scale": {"domain": [0, 393.3], "nice": false},
                  "axis": {
                    "values": [0, 50, 100, 150, 200, 250, 300, 350],
                    "tickCount": 100,
                    "tickSize": 17.5,
                    "tickDash": {"condition": {"test": "datum.value % 100 === 0", "value": [20, 0]}, "value": [9.5, 100]},
                    "gridOpacity": {"condition": {"test": "datum.value % 100 === 0 && datum.value > 0", "value": 1}, "value": 0},
                    "labelExpr": "datum.value % 100 === 0 ? format(datum.value, 'd') : ''",
                    "labelFontSize": 38, "labelPadding": 9,
                    "title": "Volume (cm³)", "titleFontSize": 37, "titleAngle": -90,
                    "titleX": -101.7, "titleY": 198.65, "titleAlign": "center", "titleBaseline": "alphabetic"
                  }}
          }
        },
        {
          "data": {"name": "outgoing"},
          "mark": {"type": "line", "stroke": "black", "strokeWidth": 1.2},
          "encoding": {
            "x": {"field": "t", "type": "quantitative", "scale": {"domain": [0, 120], "nice": false, "zero": false}},
            "y": {"field": "v", "type": "quantitative", "scale": {"domain": [0, 393.3], "nice": false}}
          }
        },
        {
          "data": {"name": "income"},
          "mark": {"type": "line", "stroke": "black", "strokeWidth": 1.6},
          "encoding": {
            "x": {"field": "t", "type": "quantitative", "scale": {"domain": [0, 120], "nice": false, "zero": false}},
            "y": {"field": "v", "type": "quantitative", "scale": {"domain": [0, 393.3], "nice": false}}
          }
        },
        {
          "data": {"name": "income"},
          "mark": {"type": "point", "shape": "M0,-1L0.2245,-0.309L0.951,-0.309L0.363,0.118L0.588,0.809L0,0.382L-0.588,0.809L-0.363,0.118L-0.951,-0.309L-0.2245,-0.309Z", "filled": false, "stroke": "black", "strokeWidth": 0.9, "size": 100, "opacity": 1},
          "encoding": {
            "x": {"field": "t", "type": "quantitative", "scale": {"domain": [0, 120], "nice": false, "zero": false}},
            "y": {"field": "v", "type": "quantitative", "scale": {"domain": [0, 393.3], "nice": false}}
          }
        },
        {
          "data": {"values": [{}]},
          "mark": {"type": "rect", "fill": "white", "stroke": "black", "strokeWidth": 1, "cornerRadius": 16},
          "encoding": {
            "x": {"datum": 0.7, "type": "quantitative", "scale": {"domain": [0, 120], "nice": false, "zero": false}},
            "x2": {"datum": 68.2},
            "y": {"datum": 390.1, "type": "quantitative", "scale": {"domain": [0, 393.3], "nice": false}},
            "y2": {"datum": 261.4}
          }
        },
        {
          "data": {"values": [{}]},
          "mark": {"type": "rule", "stroke": "black", "strokeWidth": 1.2},
          "encoding": {
            "x": {"datum": 3.5, "type": "quantitative", "scale": {"domain": [0, 120], "nice": false, "zero": false}},
            "x2": {"datum": 28.1},
            "y": {"datum": 358.7, "type": "quantitative", "scale": {"domain": [0, 393.3], "nice": false}}
          }
        },
        {
          "data": {"values": [{}]},
          "mark": {"type": "rule", "stroke": "black", "strokeWidth": 1.2},
          "encoding": {
            "x": {"datum": 3.5, "type": "quantitative", "scale": {"domain": [0, 120], "nice": false, "zero": false}},
            "x2": {"datum": 28.1},
            "y": {"datum": 293.4, "type": "quantitative", "scale": {"domain": [0, 393.3], "nice": false}}
          }
        },
        {
          "data": {"values": [{}]},
          "mark": {"type": "point", "shape": "M0,-1L0.2245,-0.309L0.951,-0.309L0.363,0.118L0.588,0.809L0,0.382L-0.588,0.809L-0.363,0.118L-0.951,-0.309L-0.2245,-0.309Z", "filled": false, "stroke": "black", "strokeWidth": 1.1, "size": 1513, "opacity": 1},
          "encoding": {
            "x": {"datum": 15.7, "type": "quantitative", "scale": {"domain": [0, 120], "nice": false, "zero": false}},
            "y": {"datum": 358.7, "type": "quantitative", "scale": {"domain": [0, 393.3], "nice": false}}
          }
        },
        {
          "data": {"values": [{}]},
          "mark": {"type": "point", "shape": "diamond", "filled": false, "stroke": "black", "strokeWidth": 1.1, "size": 1444, "opacity": 1},
          "encoding": {
            "x": {"datum": 15.7, "type": "quantitative", "scale": {"domain": [0, 120], "nice": false, "zero": false}},
            "y": {"datum": 293.4, "type": "quantitative", "scale": {"domain": [0, 393.3], "nice": false}}
          }
        },
        {
          "data": {"values": [{}]},
          "mark": {"type": "text", "align": "left", "baseline": "alphabetic", "fontSize": 34},
          "encoding": {
            "x": {"datum": 36.06, "type": "quantitative", "scale": {"domain": [0, 120], "nice": false, "zero": false}},
            "y": {"datum": 348.8, "type": "quantitative", "scale": {"domain": [0, 393.3], "nice": false}},
            "text": {"value": "Income"}
          }
        },
        {
          "data": {"values": [{}]},
          "mark": {"type": "text", "align": "left", "baseline": "alphabetic", "fontSize": 34},
          "encoding": {
            "x": {"datum": 36.06, "type": "quantitative", "scale": {"domain": [0, 120], "nice": false, "zero": false}},
            "y": {"datum": 282.8, "type": "quantitative", "scale": {"domain": [0, 393.3], "nice": false}},
            "text": {"value": "Outgoing"}
          }
        },
        {
          "data": {"values": [{}]},
          "mark": {"type": "text", "align": "left", "baseline": "alphabetic", "fontSize": 29},
          "encoding": {
            "x": {"datum": -16.07, "type": "quantitative", "scale": {"domain": [0, 120], "nice": false, "zero": false}},
            "y": {"datum": -113.5, "type": "quantitative", "scale": {"domain": [0, 393.3], "nice": false}},
            "text": {"value": "03-25-2001"}
          }
        }
      ]
    }
  ]
}
